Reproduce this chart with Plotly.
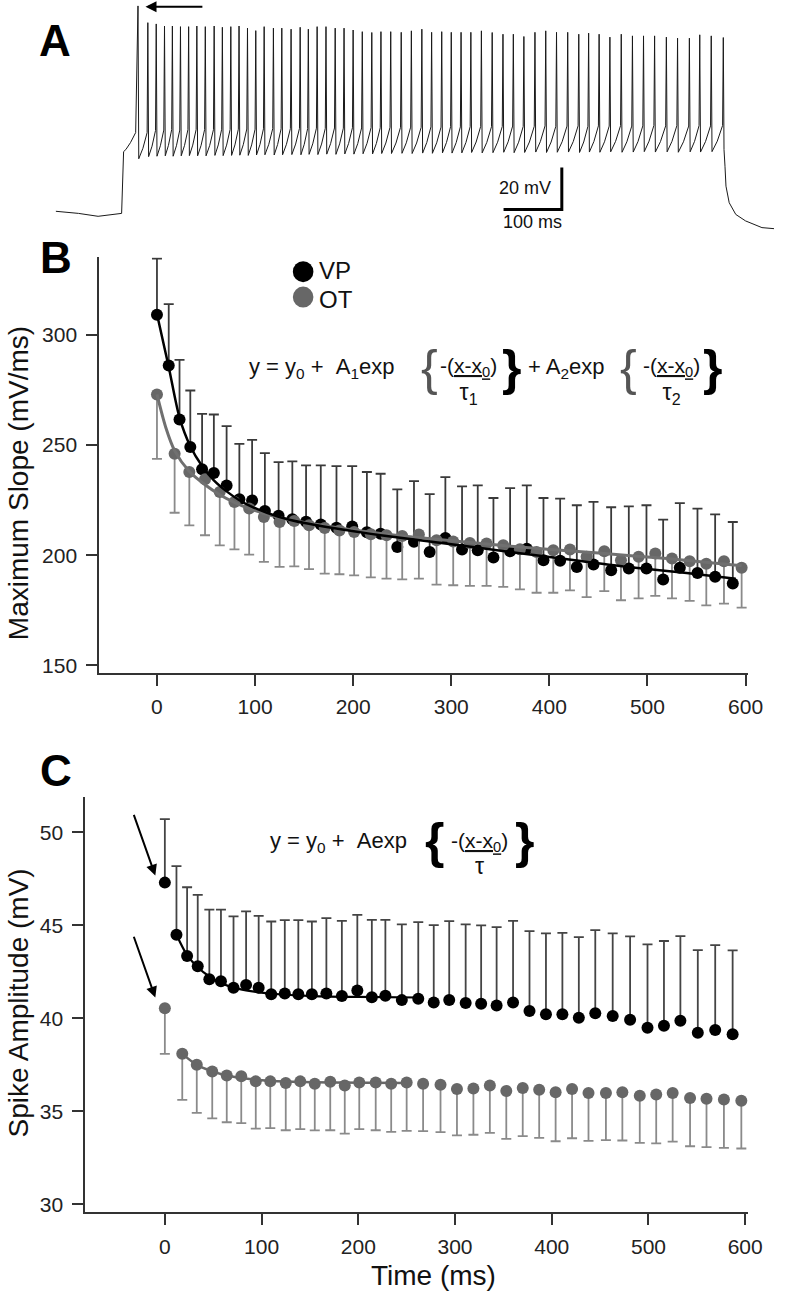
import plotly.graph_objects as go

W, H = 789, 1299
FONT = "Liberation Sans, Arial, Helvetica, sans-serif"


def fx(p):
    return p / W


def fy(p):
    return 1 - p / H


# ---------------- Panel A : voltage trace (ms, mV) ----------------
pre_t = [-114.5, -75.8, -42.1, -25.3, -8.4, -1.7, 1.7, 5.6, 13.5, 22.4]
pre_v = [-64.5, -65.5, -66.9, -66.4, -66.0, -65.5, -36.0, -35.0, -31.7, -26.9]

spike_t = [26.4, 43.3, 57.7, 71.9, 85.4, 99.3, 113.3, 127.4, 141.9, 157.1,
           171.2, 185.7, 199.8, 214.3, 228.5, 242.9, 258.8, 273.2, 289.1, 304.7,
           318.7, 333.8, 349.0, 364.8, 380.0, 395.6, 411.3, 427.6, 443.3, 460.1,
           478.1, 495.5, 513.5, 530.3, 547.6, 564.0, 580.8, 597.6, 615.7, 634.2,
           652.7, 670.5, 688.6, 707.6, 726.1, 744.6, 763.8, 782.8, 799.7, 817.7,
           836.2, 855.7, 874.9, 893.9, 912.9, 933.1, 952.3, 972.6, 990.4, 1010.1,
           1030.8]
spike_peak = [33.6, 25.6, 25.0, 24.0, 24.0, 23.7, 23.7, 24.0, 23.7, 24.0,
              23.4, 23.7, 24.0, 23.0, 21.8, 23.7, 23.0, 23.0, 22.5, 23.4,
              22.5, 23.7, 23.7, 23.0, 23.0, 22.1, 21.3, 20.9, 21.3, 21.3,
              21.0, 21.7, 22.5, 21.0, 21.3, 21.0, 21.0, 21.0, 21.7, 20.9,
              20.1, 20.1, 19.0, 21.0, 21.7, 21.0, 21.0, 20.1, 20.6, 20.1,
              18.7, 20.1, 19.3, 19.3, 19.3, 18.7, 18.2, 18.2, 19.8, 19.3,
              18.5]
trough_v = [-39.4, -38.4, -38.2, -38.0, -38.2, -38.0, -37.9, -38.0, -38.0, -37.8,
            -37.9, -37.8, -37.7, -37.8, -37.6, -37.5, -37.6, -37.5, -37.4, -37.5,
            -37.3, -37.4, -37.2, -37.3, -37.1, -37.2, -37.0, -37.1, -36.9, -36.9,
            -36.8, -36.9, -36.7, -36.8, -36.6, -36.7, -36.6, -36.4, -36.6, -36.5,
            -36.3, -36.5, -36.4, -36.2, -36.4, -36.3, -36.2, -36.4, -36.2, -36.3,
            -36.1, -36.3, -36.2, -36.0, -36.2, -36.1, -36.3, -36.1, -36.2, -36.0]
post_t = [1032.0, 1033.7, 1035.4, 1040.9, 1052.2, 1069.0, 1097.1, 1117.8]
post_v = [-35.0, -43.0, -52.5, -60.4, -66.0, -69.1, -72.3, -72.8]

# scale bar (ms, mV)
SB_T, SB_V = 100, 20
SB_X0, SB_Y0 = 653.7, -63.6

# ---------------- Panels B and C : spike times (ms) ----------------
vp_t = [0, 12, 23, 34, 46, 58, 71, 84, 97, 110, 124, 138, 152, 167, 183, 199, 214, 228,
        245, 262, 278, 294, 311, 327, 343, 360, 377, 394, 411, 428, 445, 463, 481, 499,
        516, 533, 551, 569, 587]
ot_t = [0, 18, 33, 49, 64, 79, 94, 109, 125, 140, 155, 171, 186, 201, 218, 234,
        250, 267, 285, 302, 319, 336, 353, 370, 387, 404, 421, 438, 456, 473, 491, 508,
        525, 543, 560, 578, 596]

# Panel B: maximum slope (mV/ms)
vp_slope = [309.2, 286.1, 261.6, 249.1, 239.0, 237.3, 231.7, 225.4, 224.9, 220.1,
            218.0, 216.3, 215.2, 214.0, 212.5, 213.1, 210.5, 209.8,
            203.8, 206.1, 201.5, 207.9, 202.6, 202.3, 199.0, 201.8, 203.0, 197.7,
            197.5, 194.7, 195.8, 193.2, 194.0, 194.0, 189.0, 194.3, 192.0, 190.2, 187.2]
vp_slope_hi = [334.7, 314.0, 288.7, 274.8, 264.2, 263.9, 258.6, 250.6, 252.4, 246.4,
               242.3, 242.6, 240.8, 240.8, 240.5, 240.5, 237.8, 237.0,
               229.9, 233.7, 227.8, 235.5, 231.3, 231.7, 226.0, 230.5, 231.7, 226.0,
               225.7, 222.7, 224.2, 221.8, 222.2, 222.7, 216.2, 223.7, 221.2, 218.6, 215.1]
ot_slope = [273.0, 246.1, 237.8, 234.5, 228.7, 224.2, 221.2, 217.4, 215.1, 215.6,
            213.6, 212.4, 211.3, 210.6, 209.5, 209.1,
            208.8, 209.4, 206.8, 206.3, 205.6, 205.3, 204.5, 202.7, 201.5, 202.3,
            202.6, 199.3, 201.8, 197.7, 199.3, 200.8, 198.5, 197.3, 196.2, 197.3, 194.3]
ot_slope_lo = [243.8, 219.3, 213.6, 209.1, 204.5, 202.7, 200.3, 197.0, 194.7, 195.0,
               193.7, 191.7, 191.4, 190.9, 190.0, 189.4,
               189.1, 189.4, 186.7, 186.4, 186.1, 186.1, 185.7, 184.5, 183.0, 183.0,
               184.1, 181.0, 183.7, 179.6, 180.4, 181.6, 180.4, 179.3, 177.3, 178.1, 176.2]

# fitted curves in panel B
vp_fitB_t = [0, 12, 23, 34, 46, 58, 71, 84, 97, 124, 152, 199, 228, 300, 360, 430, 480, 540, 590]
vp_fitB_v = [309.5, 285.5, 262.5, 249.5, 240.5, 234, 229, 225, 222, 217.5, 214.5, 211, 209.1,
             205, 201.5, 197.5, 194.7, 192, 189.4]
ot_fitB_t = [0, 9, 18, 33, 49, 64, 79, 94, 125, 155, 200, 250, 350, 450, 520, 596]
ot_fitB_v = [273, 258, 247.5, 238, 232, 227.5, 224, 221.2, 217, 214.5, 211.5, 208.8,
             204.5, 201, 198.5, 195.3]

# Panel C: spike amplitude (mV)
vp_amp = [47.3, 44.5, 43.35, 42.8, 42.1, 42.0, 41.65, 41.8, 41.65, 41.3,
          41.33, 41.3, 41.3, 41.33, 41.2, 41.5, 41.13, 41.22,
          40.98, 41.05, 40.85, 40.99, 40.83, 40.79, 40.69, 40.85, 40.40, 40.22,
          40.22, 40.03, 40.28, 40.13, 39.92, 39.49, 39.6, 39.87, 39.22, 39.37, 39.15]
vp_amp_hi = [50.71, 48.19, 47.05, 46.64, 45.85, 45.85, 45.48, 45.75, 45.51, 45.21,
             45.28, 45.28, 45.21, 45.39, 45.24, 45.57, 45.3, 45.3,
             45.05, 45.17, 45.01, 45.23, 45.05, 45.0, 44.91, 45.24, 44.69, 44.57,
             44.6, 44.37, 44.75, 44.57, 44.41, 43.98, 44.16, 44.42, 43.67, 43.94, 43.66]
ot_amp = [40.54, 38.09, 37.5, 37.14, 36.93, 36.88, 36.61, 36.61, 36.52, 36.61,
          36.48, 36.59, 36.39, 36.55, 36.55, 36.48,
          36.55, 36.48, 36.43, 36.2, 36.23, 36.39, 36.09, 36.25, 36.16, 36.02,
          36.2, 35.98, 35.98, 36.02, 35.84, 35.9, 35.98, 35.71, 35.68, 35.63, 35.57]
ot_amp_lo = [38.09, 35.61, 34.91, 34.62, 34.41, 34.36, 34.07, 34.09, 33.98, 34.04,
             33.97, 33.98, 33.8, 34.04, 33.98, 33.89,
             33.95, 33.93, 33.88, 33.7, 33.74, 33.84, 33.52, 33.66, 33.57, 33.39,
             33.55, 33.41, 33.45, 33.43, 33.3, 33.28, 33.37, 33.12, 33.07, 33.03, 33.0]

vp_fitC_t = [12, 23, 34, 46, 58, 71, 84, 97, 124, 152, 199, 262]
vp_fitC_v = [44.5, 43.4, 42.75, 42.25, 41.9, 41.65, 41.5, 41.4, 41.27, 41.2, 41.15, 41.12]
ot_fitC_t = [18, 33, 49, 64, 79, 94, 125, 171, 250]
ot_fitC_v = [38.09, 37.5, 37.15, 36.93, 36.8, 36.7, 36.6, 36.55, 36.52]

x_ticks = [0, 100, 200, 300, 400, 500, 600]
yB_ticks = [150, 200, 250, 300]
yC_ticks = [30, 35, 40, 45, 50]

# colours
VP_COL = "#000000"
OT_COL = "#676767"
VP_BAR = "#3a3a3a"
OT_BAR = "#8a8a8a"

# ---------------- build panel A path ----------------
trace_t, trace_v = list(pre_t), list(pre_v)
for k, (t, pk) in enumerate(zip(spike_t, spike_peak)):
    trace_t.append(t)
    trace_v.append(pk)
    if k < len(trough_v) and k + 1 < len(spike_t):
        nxt = spike_t[k + 1]
        isi = nxt - t
        tr = trough_v[k]
        trace_t += [t + 1.3, t + 0.5 * isi, nxt - 1.2]
        trace_v += [tr, tr + 5, tr + 12.5]
trace_t += post_t
trace_v += post_v

fig = go.Figure()

fig.add_trace(go.Scatter(x=trace_t, y=trace_v, mode="lines",
                         line=dict(color="#1a1a1a", width=1),
                         xaxis="x", yaxis="y", hoverinfo="skip"))


def err_up(hi, val):
    return [h - v for h, v in zip(hi, val)]


def err_dn(lo, val):
    return [v - l for l, v in zip(lo, val)]


# ---------------- Panel B ----------------
fig.add_trace(go.Scatter(
    x=vp_t, y=vp_slope, mode="markers", name="VP",
    marker=dict(color=VP_COL, size=12, line=dict(width=0)),
    error_y=dict(type="data", symmetric=False, array=err_up(vp_slope_hi, vp_slope),
                 arrayminus=[0] * len(vp_slope), color=VP_BAR, thickness=1.8, width=5),
    xaxis="x2", yaxis="y2"))
fig.add_trace(go.Scatter(
    x=ot_t, y=ot_slope, mode="markers", name="OT",
    marker=dict(color=OT_COL, size=12, line=dict(width=0)),
    error_y=dict(type="data", symmetric=False, array=[0] * len(ot_slope),
                 arrayminus=err_dn(ot_slope_lo, ot_slope), color=OT_BAR, thickness=1.8, width=5),
    xaxis="x2", yaxis="y2"))
fig.add_trace(go.Scatter(x=ot_fitB_t, y=ot_fitB_v, mode="lines",
                         line=dict(color="#707070", width=3, shape="spline", smoothing=0.8),
                         xaxis="x2", yaxis="y2", hoverinfo="skip"))
fig.add_trace(go.Scatter(x=vp_fitB_t, y=vp_fitB_v, mode="lines",
                         line=dict(color="#000000", width=2.5, shape="spline", smoothing=0.8),
                         xaxis="x2", yaxis="y2", hoverinfo="skip"))

# ---------------- Panel C ----------------
fig.add_trace(go.Scatter(
    x=vp_t, y=vp_amp, mode="markers", name="VP",
    marker=dict(color=VP_COL, size=12, line=dict(width=0)),
    error_y=dict(type="data", symmetric=False, array=err_up(vp_amp_hi, vp_amp),
                 arrayminus=[0] * len(vp_amp), color="#444444", thickness=1.8, width=5),
    xaxis="x3", yaxis="y3"))
fig.add_trace(go.Scatter(
    x=ot_t, y=ot_amp, mode="markers", name="OT",
    marker=dict(color=OT_COL, size=12, line=dict(width=0)),
    error_y=dict(type="data", symmetric=False, array=[0] * len(ot_amp),
                 arrayminus=err_dn(ot_amp_lo, ot_amp), color=OT_BAR, thickness=1.8, width=5),
    xaxis="x3", yaxis="y3"))
fig.add_trace(go.Scatter(x=vp_fitC_t, y=vp_fitC_v, mode="lines",
                         line=dict(color="#000000", width=2.2, shape="spline", smoothing=0.8),
                         xaxis="x3", yaxis="y3", hoverinfo="skip"))
fig.add_trace(go.Scatter(x=ot_fitC_t, y=ot_fitC_v, mode="lines",
                         line=dict(color=OT_COL, width=2.5, shape="spline", smoothing=0.8),
                         xaxis="x3", yaxis="y3", hoverinfo="skip"))

axis_common = dict(showline=True, linecolor="#333333", linewidth=1.5, ticks="outside",
                   ticklen=11, tickwidth=1.5, tickcolor="#333333", showgrid=False,
                   zeroline=False, tickfont=dict(family=FONT, size=21, color="#222222"))

fig.update_layout(
    width=W, height=H, margin=dict(l=0, r=0, t=0, b=0),
    paper_bgcolor="white", plot_bgcolor="white", showlegend=False,
    font=dict(family=FONT, color="#111111"),
    xaxis=dict(domain=[0, 1], range=[-210.4, 1117.8], visible=False, anchor="y"),
    yaxis=dict(domain=[fy(235), 1], range=[-75.48, 36.43], visible=False, anchor="x"),
    xaxis2=dict(domain=[fx(101), fx(763)], range=[-59, 603], anchor="y2",
                tickvals=x_ticks, ticklabelstandoff=3, **axis_common),
    yaxis2=dict(domain=[fy(675), fy(258)], range=[146.6, 335.3], anchor="x2",
                tickvals=yB_ticks, ticklabelstandoff=5, **axis_common),
    xaxis3=dict(domain=[fx(86.7), fx(762.7)], range=[-82.5, 603.1], anchor="y3",
                tickvals=x_ticks, ticklabelstandoff=4, **axis_common),
    yaxis3=dict(domain=[fy(1216), fy(799)], range=[29.57, 51.93], anchor="x3",
                tickvals=yC_ticks, ticklabelstandoff=5, **axis_common),
)

shapes = [
    # scale bar (panel A)
    dict(type="path", xref="x", yref="y",
         path=f"M {SB_X0},{SB_Y0} L {SB_X0 + SB_T},{SB_Y0} L {SB_X0 + SB_T},{SB_Y0 + SB_V}",
         line=dict(color="black", width=3)),
    # legend markers (panel B)
    dict(type="circle", xref="paper", yref="paper", x0=fx(298.5), x1=fx(319.5),
         y0=fy(283), y1=fy(262), fillcolor=VP_COL, line=dict(width=0)),
    dict(type="circle", xref="paper", yref="paper", x0=fx(298.5), x1=fx(319.5),
         y0=fy(308.5), y1=fy(287.5), fillcolor=OT_COL, line=dict(width=0)),
]
fig.update_layout(shapes=shapes)

anns = []


def ann(text, x, y, size, xanchor="center", yanchor="middle", bold=False,
        color="#111111", textangle=0, align="center"):
    anns.append(dict(text=f"<b>{text}</b>" if bold else text, x=fx(x), y=fy(y),
                     xref="paper", yref="paper", showarrow=False, xanchor=xanchor,
                     yanchor=yanchor, textangle=textangle, align=align,
                     font=dict(family=FONT, size=size, color=color)))


def sized(text, px_size):
    return f"<span style='font-size:{px_size}px'>{text}</span>"


# panel letters
ann("A", 56, 41, 44, bold=True, color="#000000")
ann("B", 57.5, 258.5, 44, bold=True, color="#000000")
ann("C", 56.7, 772.5, 44, bold=True, color="#000000")

# scale bar labels
ann("20 mV", 564, 189, 18, xanchor="right")
ann("100 ms", 543, 223, 18)

# legend text (two lines)
ann(sized("VP", 24) + "<br>" + sized("OT", 24), 323, 286, 22, xanchor="left", align="left")

# axis titles
ann("Maximum Slope (mV/ms)", 19, 485, 28, textangle=-90)
ann("Spike Amplitude (mV)", 19, 1006, 28, textangle=-90)
ann("Time (ms)", 442, 1279, 28)

NB = "\u00a0"
FRAC = sized("-(<u>x-x<sub>0</sub></u>)", 21)
# equation, panel B
ann(f"y = y<sub>0</sub> +{NB}{NB}A<sub>1</sub>exp", 328.5, 369, 22)
ann("{", 438, 369, 50, color="#555555")
ann(FRAC + "<br>" + sized("τ<sub>1</sub>", 23), 478, 382, 21)
ann("}", 521, 369, 50, bold=True, color="#000000")
ann("+ A<sub>2</sub>exp", 576.5, 369, 22)
ann("{", 641, 369, 50, color="#555555")
ann(FRAC + "<br>" + sized("τ<sub>2</sub>", 23), 684.5, 382, 21)
ann("}", 726.5, 369, 50, bold=True, color="#000000")

# equation, panel C
ann(f"y = y<sub>0</sub> +{NB}{NB}Aexp", 345, 845, 22)
ann("{", 443.3, 844, 50, bold=True, color="#000000")
ann(FRAC + "<br>" + sized("τ", 23), 489, 857, 20)
ann("}", 534.5, 844, 50, bold=True, color="#000000")

# arrows
for hx, hy, tx, ty in [(148.3, 6.7, 206.7, 6.7), (158.3, 878.3, 136.3, 816.0),
                       (158.3, 1000.7, 136.3, 938.3)]:
    anns.append(dict(x=fx(hx), y=fy(hy), xref="paper", yref="paper", text="",
                     showarrow=True, axref="pixel", ayref="pixel",
                     ax=tx - hx, ay=ty - hy, arrowhead=2, arrowsize=1.1,
                     arrowwidth=2, arrowcolor="black", standoff=0))

fig.update_layout(annotations=anns)

fig.write_html("out.html", config={"displayModeBar": False},
               post_script="document.body.style.margin='0';document.body.style.padding='0';")
